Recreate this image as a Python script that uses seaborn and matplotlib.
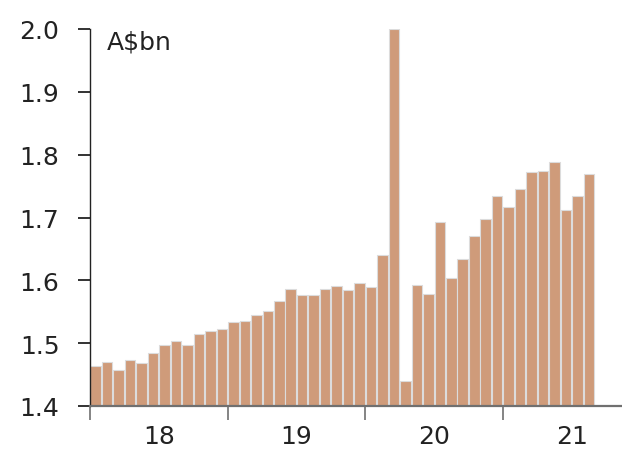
import matplotlib
matplotlib.use("Agg")
import matplotlib.pyplot as plt
import seaborn as sns
import pandas as pd
import numpy as np

# Monthly values, Jan 2018 - Aug 2021 (A$bn)
months = pd.date_range("2018-01-01", periods=44, freq="MS").strftime("%Y-%m").tolist()
values = [
    1.463, 1.470, 1.457, 1.473, 1.469, 1.484, 1.497, 1.504, 1.497, 1.514, 1.519, 1.523,
    1.533, 1.535, 1.545, 1.551, 1.567, 1.587, 1.577, 1.577, 1.586, 1.591, 1.584, 1.595,
    1.589, 1.640, 2.000, 1.439, 1.592, 1.579, 1.693, 1.604, 1.634, 1.670, 1.698, 1.734,
    1.716, 1.745, 1.772, 1.774, 1.788, 1.712, 1.734, 1.770,
]
year_labels = ["18", "19", "20", "21"]
y_ticks = [1.4, 1.5, 1.6, 1.7, 1.8, 1.9, 2.0]

df = pd.DataFrame({"month": months, "value": values})

sns.set_theme(style="ticks")
plt.rcParams["font.family"] = ["DejaVu Sans"]
plt.rcParams["xtick.bottom"] = True
plt.rcParams["ytick.left"] = True

FS = 18

fig = plt.figure(figsize=(6.22, 4.56), dpi=100)
ax = fig.add_axes([90 / 622, 49 / 456, 532 / 622, 377 / 456])

sns.barplot(data=df, x="month", y="value", color="#CF9B7A", saturation=1,
            width=0.92, edgecolor="#DCDCDC", linewidth=0.8, ax=ax)

ax.set_ylim(1.4, 2.0)
ax.set_xlim(-0.5, -0.5 + 532 / 11.47)
ax.set_yticks(y_ticks)
ax.set_yticklabels([f"{t:.1f}" for t in y_ticks], fontsize=FS, color="#222222")

# year boundary ticks (major) and centred year labels (minor)
ax.set_xticks([-0.5, 11.5, 23.5, 35.5])
ax.set_xticklabels([])
ax.set_xticks([5.5, 17.5, 29.5, 41.5], minor=True)
ax.set_xticklabels(year_labels, minor=True, fontsize=FS, color="#222222")
ax.tick_params(axis="x", which="major", bottom=True, length=10, width=1.2,
               color="#707070", direction="out")
ax.tick_params(axis="x", which="minor", bottom=True, length=0, pad=13)
ax.tick_params(axis="y", which="major", left=True, length=9, width=1.3,
               color="#222222", direction="out", pad=13)

for s in ["top", "right"]:
    ax.spines[s].set_visible(False)
ax.spines["left"].set_color("#222222")
ax.spines["left"].set_linewidth(1.0)
ax.spines["bottom"].set_color("#707070")
ax.spines["bottom"].set_linewidth(1.6)
ax.spines["bottom"].set_zorder(5)

ax.set_xlabel("")
ax.set_ylabel("")
ax.text(0.032, 0.998, "A$bn", transform=ax.transAxes, fontsize=FS,
        color="#222222", va="top", ha="left")

fig.savefig("out.png", dpi=100, facecolor="white")
